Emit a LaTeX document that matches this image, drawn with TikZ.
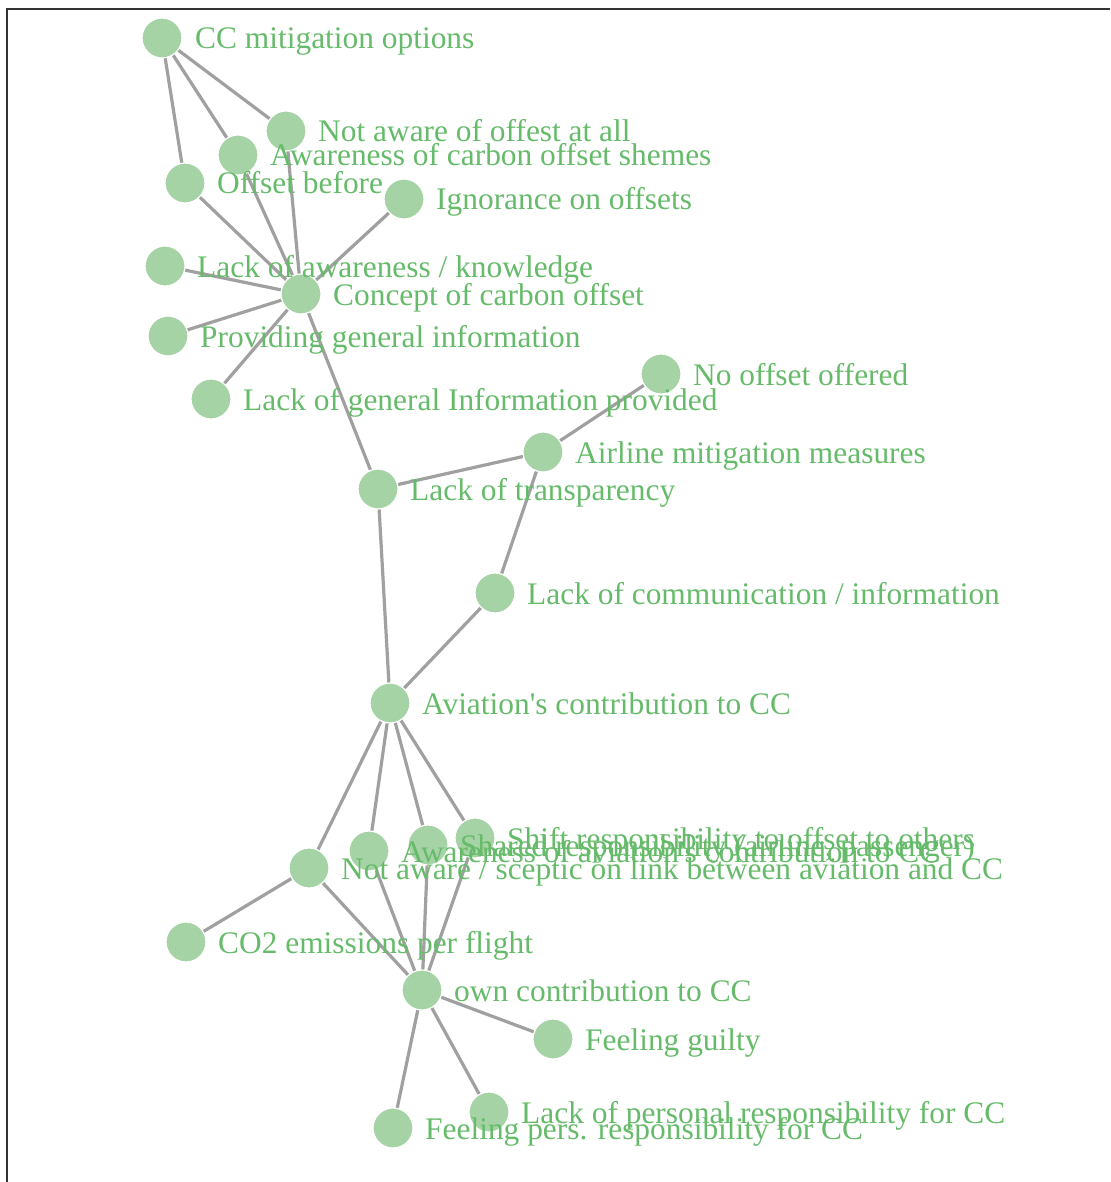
\documentclass[tikz,border=0pt]{standalone}
\usepackage{fontspec}
\setmainfont{Liberation Serif}[Ligatures=TeXOff]
\definecolor{nodefill}{HTML}{A5D3A5}
\definecolor{labelgreen}{HTML}{66BB6A}
\definecolor{linkgray}{HTML}{A0A0A0}
\definecolor{framegray}{HTML}{333333}
\begin{document}
\begin{tikzpicture}[x=1pt,y=-1pt,
  link/.style={draw=linkgray, line width=3.2pt},
  dot/.style={circle, fill=nodefill, draw=white, line width=1.2pt, minimum size=40pt, inner sep=0pt},
  lbl/.style={anchor=base west, text=labelgreen, font=\fontsize{31.4}{32}\selectfont, inner sep=0pt}]
\useasboundingbox (0,0) rectangle (1110,1182);
\draw[framegray, line width=2pt] (7,1182) -- (7,9) -- (1110,9);

% positions of the graph vertices
\coordinate (p1) at (162,38);
\coordinate (p2) at (286,131);
\coordinate (p3) at (238,155);
\coordinate (p4) at (185,183);
\coordinate (p5) at (404,199);
\coordinate (p6) at (165,266);
\coordinate (p7) at (301,294);
\coordinate (p8) at (168,336);
\coordinate (p9) at (211,399);
\coordinate (p10) at (661,374);
\coordinate (p11) at (543,452);
\coordinate (p12) at (378,489);
\coordinate (p13) at (495,593);
\coordinate (p14) at (390,703);
\coordinate (p15) at (369,851);
\coordinate (p16) at (428,845);
\coordinate (p17) at (475,838);
\coordinate (p18) at (309,868);
\coordinate (p19) at (186,942);
\coordinate (p20) at (422,990);
\coordinate (p21) at (553,1039);
\coordinate (p22) at (489,1112);
\coordinate (p23) at (393,1128);

% links
\foreach \a/\b in {1/2,1/3,1/4,7/2,7/3,7/4,7/5,7/6,7/8,7/9,7/12,
  10/11,11/12,11/13,12/14,13/14,14/15,14/16,14/17,14/18,18/19,
  20/15,20/16,20/17,20/18,20/21,20/22,20/23}
  \draw[link] (p\a) -- (p\b);

% vertices
\foreach \i in {1,...,23}
  \node[dot] (n\i) at (p\i) {};

% labels
\node[lbl] (t1) at ([shift={(33,11)}]n1.center) {CC mitigation options};
\node[lbl] (t2) at ([shift={(32,11)}]n2.center) {Not aware of offest at all};
\node[lbl] (t3) at ([shift={(32,11)}]n3.center) {Awareness of carbon offset shemes};
\node[lbl] (t4) at ([shift={(32,11)}]n4.center) {Offset before};
\node[lbl] (t5) at ([shift={(32,11)}]n5.center) {Ignorance on offsets};
\node[lbl] (t6) at ([shift={(32,11)}]n6.center) {Lack of awareness / knowledge};
\node[lbl] (t7) at ([shift={(32,11)}]n7.center) {Concept of carbon offset};
\node[lbl] (t8) at ([shift={(32,11)}]n8.center) {Providing general information};
\node[lbl] (t9) at ([shift={(32,11)}]n9.center) {Lack of general Information provided};
\node[lbl] (t10) at ([shift={(32,11)}]n10.center) {No offset offered};
\node[lbl] (t11) at ([shift={(32,11)}]n11.center) {Airline mitigation measures};
\node[lbl] (t12) at ([shift={(32,11)}]n12.center) {Lack of transparency};
\node[lbl] (t13) at ([shift={(32,11)}]n13.center) {Lack of communication / information};
\node[lbl] (t14) at ([shift={(32,11)}]n14.center) {Aviation's contribution to CC};
\node[lbl] (t15) at ([shift={(32,11)}]n15.center) {Awareness of aviation's contribution to CC};
\node[lbl] (t16) at ([shift={(32,11)}]n16.center) {Shared responsibility (airline, passenger)};
\node[lbl] (t17) at ([shift={(32,11)}]n17.center) {Shift responsibility to offset to others};
\node[lbl] (t18) at ([shift={(32,11)}]n18.center) {Not aware / sceptic on link between aviation and CC};
\node[lbl] (t19) at ([shift={(32,11)}]n19.center) {CO2 emissions per flight};
\node[lbl] (t20) at ([shift={(32,11)}]n20.center) {own contribution to CC};
\node[lbl] (t21) at ([shift={(32,11)}]n21.center) {Feeling guilty};
\node[lbl] (t22) at ([shift={(32,11)}]n22.center) {Lack of personal responsibility for CC};
\node[lbl] (t23) at ([shift={(32,11)}]n23.center) {Feeling pers. responsibility for CC};
\end{tikzpicture}
\end{document}
